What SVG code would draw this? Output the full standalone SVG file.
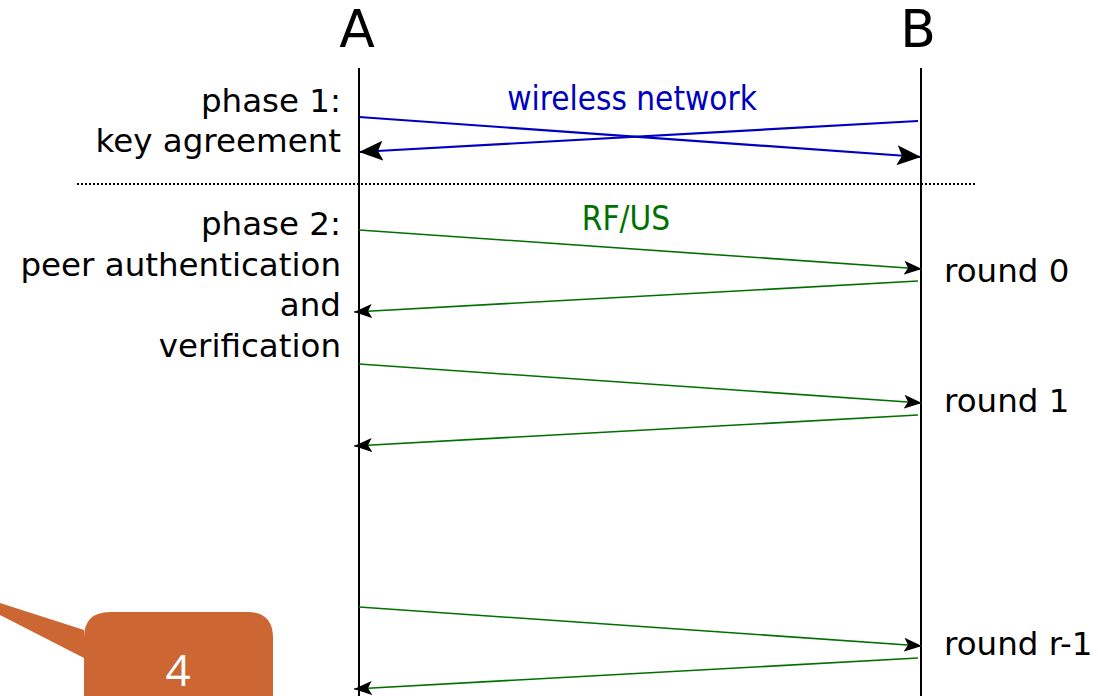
<svg xmlns="http://www.w3.org/2000/svg" width="1098" height="696" viewBox="0 0 1098 696">
<style>
.t{font-family:"DejaVu Sans",sans-serif;font-size:32.5px;fill:#000}
.r{text-anchor:end}
.big{font-family:"DejaVu Sans",sans-serif;font-size:52px;text-anchor:middle;fill:#000}
.c{font-family:"DejaVu Sans Condensed","DejaVu Sans",sans-serif;font-size:33px;text-anchor:middle}
.life{stroke:#000;stroke-width:2;fill:none}
.blue{stroke:#0000c0;stroke-width:2.2;fill:none}
.green{stroke:#007000;stroke-width:1.6;fill:none}
</style>
<defs>
<marker id="big" viewBox="0 0 24 20" refX="24" refY="10" markerWidth="24" markerHeight="20" markerUnits="userSpaceOnUse" orient="auto">
<path d="M0,0 L24,10 L0,20 L5,10 z" fill="#000"/>
</marker>
<marker id="sm" viewBox="0 0 18 14" refX="18" refY="7" markerWidth="18" markerHeight="14" markerUnits="userSpaceOnUse" orient="auto">
<path d="M0,0 L18,7 L0,14 L4,7 z" fill="#000"/>
</marker>
</defs>
<rect width="1098" height="696" fill="#fff"/>
<g id="A"><text class="big" x="357" y="47">A</text><line class="life" x1="359" y1="68" x2="359" y2="696"/></g>
<g id="B"><text class="big" x="918" y="47">B</text><line class="life" x1="921" y1="68" x2="921" y2="696"/></g>
<g id="labels">
<text class="t r" x="341" y="112">phase 1:</text>
<text class="t r" x="341" y="152">key agreement</text>
<text class="t r" x="341" y="235">phase 2:</text>
<text class="t r" x="341" y="276">peer authentication</text>
<text class="t r" x="341" y="316">and</text>
<text class="t r" x="341" y="357">verification</text>
<text class="t" x="944" y="282">round 0</text>
<text class="t" x="944" y="412">round 1</text>
<text class="t" x="944" y="655">round r-1</text>
<text class="c" x="632" y="110" fill="#0000c0">wireless network</text>
<text class="c" x="626" y="230" fill="#007000">RF/US</text>
</g>
<line x1="77" y1="184" x2="975" y2="184" stroke="#000" stroke-width="2" stroke-dasharray="2,2"/>
<g id="connectors">
<line class="blue" x1="359" y1="117" x2="921" y2="157" marker-end="url(#big)"/>
<line class="blue" x1="918" y1="121" x2="359" y2="152" marker-end="url(#big)"/>
<line class="green" x1="359" y1="230" x2="922" y2="269" marker-end="url(#sm)"/>
<line class="green" x1="918" y1="281" x2="354" y2="312" marker-end="url(#sm)"/>
<line class="green" x1="359" y1="364" x2="922" y2="403" marker-end="url(#sm)"/>
<line class="green" x1="918" y1="415" x2="354" y2="446" marker-end="url(#sm)"/>
<line class="green" x1="359" y1="607" x2="922" y2="646" marker-end="url(#sm)"/>
<line class="green" x1="918" y1="658" x2="354" y2="689" marker-end="url(#sm)"/>
</g>
<g id="callout">
<path d="M0,603 L84,630 L84,638 Q84,612 110,612 L248,612 Q273,612 273,638 L273,700 L84,700 L84,658 L0,615 Z" fill="#cc6633"/>
<text x="178" y="686" font-family="'Open Sans','DejaVu Sans',sans-serif" font-size="44" fill="#fff" text-anchor="middle">4</text>
</g>
</svg>
